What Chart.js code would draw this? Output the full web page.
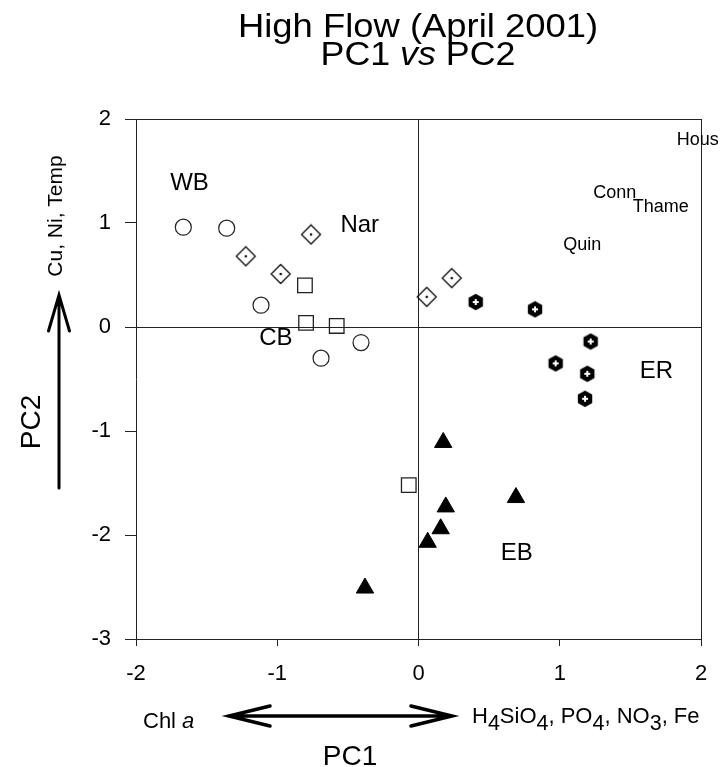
<!DOCTYPE html>
<html>
<head>
<meta charset="utf-8">
<script src="https://cdn.jsdelivr.net/npm/chart.js@4"></script>
<style>
  html, body { margin: 0; padding: 0; background: #fff; }
  canvas { display: block; }
</style>
</head>
<body>
<canvas id="pca" width="725" height="767"></canvas>
<script>
const FONT = "'Liberation Sans', Arial, Helvetica, sans-serif";

// PCA scores [PC1, PC2] for each site group
const wbScores  = [[-1.665, 0.96], [-1.358, 0.95], [-1.115, 0.21], [-0.690, -0.30], [-0.407, -0.15]];
const narScores = [[-0.761, 0.89], [-1.223, 0.68], [-0.976, 0.51], [0.235, 0.47], [0.058, 0.29]];
const cbScores  = [[-0.804, 0.40], [-0.796, 0.04], [-0.579, 0.01], [-0.069, -1.52]];
const erScores  = [[0.405, 0.24], [0.825, 0.17], [1.219, -0.14], [0.971, -0.35], [1.195, -0.45], [1.179, -0.69]];
const ebScores  = [[0.175, -1.11], [0.690, -1.64], [0.193, -1.73], [0.157, -1.94], [0.065, -2.07], [-0.379, -2.51]];

// Axis ranges
const pc1Range = [-2, 2];
const pc2Range = [-3, 2];

// Group names and where they sit in score space
const groupNames = ['WB', 'Nar', 'CB', 'ER', 'EB'];
const groupLabelAt = [[-1.621, 1.40], [-0.416, 0.996], [-1.010, -0.093], [1.684, -0.406], [0.695, -2.154]];

// Other sites named on the plot
const siteNames = ['Hous', 'Conn', 'Thame', 'Quin'];
const siteLabelAt = [[1.977, 1.811], [1.389, 1.304], [1.715, 1.168], [1.159, 0.803]];

const toPoints = arr => arr.map(([x, y]) => ({ x, y }));

// Marker: diamond with a centre dot
function diamondDot() {
  const c = document.createElement('canvas');
  c.width = 22; c.height = 22;
  const g = c.getContext('2d');
  g.strokeStyle = '#111'; g.lineWidth = 1.3;
  g.beginPath();
  g.moveTo(11, 1.5); g.lineTo(20.5, 11); g.lineTo(11, 20.5); g.lineTo(1.5, 11); g.closePath();
  g.stroke();
  g.fillStyle = '#111';
  g.beginPath(); g.arc(11, 11, 1.3, 0, Math.PI * 2); g.fill();
  return c;
}

// Marker: filled hexagon with a white cross
function hexCross() {
  const c = document.createElement('canvas');
  c.width = 18; c.height = 18;
  const g = c.getContext('2d');
  g.fillStyle = '#000';
  g.beginPath();
  for (let k = 0; k < 6; k++) {
    const a = -Math.PI / 2 + k * Math.PI / 3;
    const px = 9 + 8.3 * Math.cos(a), py = 9 + 8.3 * Math.sin(a);
    if (k === 0) g.moveTo(px, py); else g.lineTo(px, py);
  }
  g.closePath(); g.fill();
  g.fillStyle = '#fff';
  g.fillRect(6, 8, 6, 2);
  g.fillRect(8, 6, 2, 6);
  return c;
}

const axisLines = ctx => (ctx.tick && (ctx.tick.value === 0 || ctx.tick.value === 2)) ? '#222' : 'rgba(0,0,0,0)';

// Draw a run of [text, font] pieces centred on cx, stretched to a given width
function drawRun(ctx, parts, cx, baseline, width) {
  let natural = 0;
  parts.forEach(([t, f]) => { ctx.font = f; natural += ctx.measureText(t).width; });
  const sx = width / natural;
  ctx.save();
  ctx.translate(cx - width / 2, baseline);
  ctx.scale(sx, 1);
  ctx.textAlign = 'left';
  let px = 0;
  parts.forEach(([t, f]) => { ctx.font = f; ctx.fillText(t, px, 0); px += ctx.measureText(t).width; });
  ctx.restore();
}

// Titles, axis captions, arrows and point-group labels
const decorations = {
  id: 'decorations',
  afterDraw(chart) {
    const { ctx, scales: { x, y } } = chart;
    ctx.save();
    ctx.fillStyle = '#000';
    ctx.strokeStyle = '#000';
    ctx.textBaseline = 'alphabetic';

    // title
    drawRun(ctx, [['High Flow (April 2001)', `33.5px ${FONT}`]], 418, 37, 360);
    drawRun(ctx, [['PC1 ', `33.5px ${FONT}`], ['vs', `italic 33.5px ${FONT}`], [' PC2', `33.5px ${FONT}`]], 418, 65, 195);

    // group labels
    ctx.textAlign = 'center';
    ctx.font = `24px ${FONT}`;
    groupNames.forEach((name, i) => {
      const [vx, vy] = groupLabelAt[i];
      ctx.fillText(name, x.getPixelForValue(vx), y.getPixelForValue(vy) + 0.358 * 24);
    });
    ctx.font = `18px ${FONT}`;
    siteNames.forEach((name, i) => {
      const [vx, vy] = siteLabelAt[i];
      ctx.fillText(name, x.getPixelForValue(vx), y.getPixelForValue(vy) + 0.358 * 18);
    });

    // PC1 caption with double arrow
    ctx.lineCap = 'round';
    ctx.lineWidth = 3.5;
    ctx.beginPath();
    ctx.moveTo(229, 716); ctx.lineTo(452, 716);
    ctx.moveTo(270, 706); ctx.lineTo(229, 716); ctx.lineTo(270, 726);
    ctx.moveTo(411, 706); ctx.lineTo(452, 716); ctx.lineTo(411, 726);
    ctx.stroke();

    ctx.textAlign = 'left';
    ctx.font = `22px ${FONT}`;
    ctx.fillText('Chl ', 143, 728);
    let cw = ctx.measureText('Chl ').width;
    ctx.font = `italic 22px ${FONT}`;
    ctx.fillText('a', 143 + cw, 728);

    // nutrient list with subscripts
    const chem = [['H', 0], ['4', 1], ['SiO', 0], ['4', 1], [', PO', 0], ['4', 1], [', NO', 0], ['3', 1], [', Fe', 0]];
    let cx = 472;
    chem.forEach(([t, sub]) => {
      ctx.font = sub ? `21.5px ${FONT}` : `22px ${FONT}`;
      ctx.fillText(t, cx, sub ? 730 : 722.5);
      cx += ctx.measureText(t).width;
    });

    ctx.textAlign = 'center';
    ctx.font = `28px ${FONT}`;
    ctx.fillText('PC1', 350, 765);

    // PC2 caption with arrow
    ctx.lineWidth = 3;
    ctx.beginPath();
    ctx.moveTo(59, 488); ctx.lineTo(59, 295);
    ctx.moveTo(48.5, 331); ctx.lineTo(59, 295); ctx.lineTo(69.5, 331);
    ctx.stroke();

    ctx.save();
    ctx.translate(40, 422);
    ctx.rotate(-Math.PI / 2);
    ctx.font = `28px ${FONT}`;
    ctx.fillText('PC2', 0, 0);
    ctx.restore();

    ctx.save();
    ctx.translate(62, 216);
    ctx.rotate(-Math.PI / 2);
    ctx.font = `21px ${FONT}`;
    ctx.fillText('Cu, Ni, Temp', 0, 0);
    ctx.restore();

    ctx.restore();
  }
};

Chart.defaults.font.family = FONT;
Chart.defaults.color = '#000';

new Chart(document.getElementById('pca'), {
  type: 'scatter',
  data: {
    datasets: [
      { label: 'WB', data: toPoints(wbScores), pointStyle: 'circle', pointRadius: 8,
        borderColor: '#222', borderWidth: 1.2, backgroundColor: 'rgba(0,0,0,0)' },
      { label: 'Nar', data: toPoints(narScores), pointStyle: diamondDot(), pointRadius: 10 },
      { label: 'CB', data: toPoints(cbScores), pointStyle: 'rect', pointRadius: 10.3,
        borderColor: '#222', borderWidth: 1.3, backgroundColor: 'rgba(0,0,0,0)' },
      { label: 'ER', data: toPoints(erScores), pointStyle: hexCross(), pointRadius: 9 },
      { label: 'EB', data: toPoints(ebScores), pointStyle: 'triangle', pointRadius: 10,
        borderColor: '#000', borderWidth: 1, backgroundColor: '#000' }
    ]
  },
  options: {
    responsive: false,
    animation: false,
    devicePixelRatio: 1,
    layout: { padding: { top: 119, right: 24, bottom: 0, left: 0 } },
    plugins: { legend: { display: false }, tooltip: { enabled: false } },
    scales: {
      x: {
        type: 'linear', min: pc1Range[0], max: pc1Range[1],
        afterFit: s => { s.height = 128; },
        ticks: { stepSize: 1, padding: 15, font: { size: 22 }, color: '#000' },
        grid: { color: axisLines, tickColor: '#222', tickLength: 7, lineWidth: 1 },
        border: { display: true, color: '#222', width: 1 }
      },
      y: {
        type: 'linear', min: pc2Range[0], max: pc2Range[1],
        afterFit: s => { s.width = 136; },
        ticks: { stepSize: 1, padding: 14, font: { size: 22 }, color: '#000' },
        grid: { color: axisLines, tickColor: '#222', tickLength: 11, lineWidth: 1 },
        border: { display: true, color: '#222', width: 1 }
      }
    }
  },
  plugins: [decorations]
});
</script>
</body>
</html>
